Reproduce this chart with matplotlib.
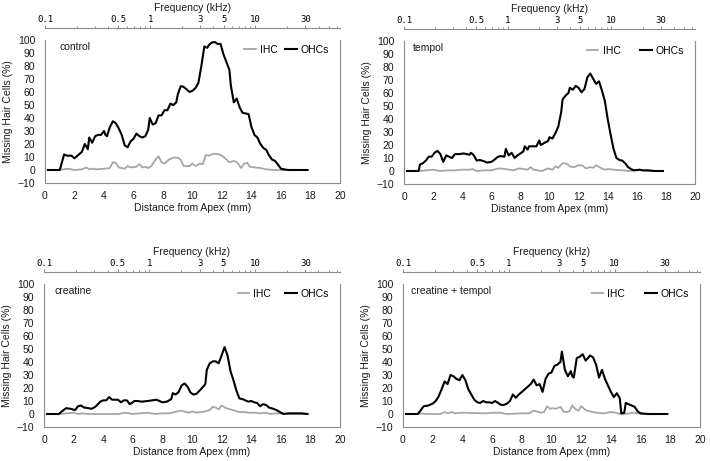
import numpy as np
import matplotlib
matplotlib.use("Agg")
import matplotlib.pyplot as plt
from matplotlib.ticker import FixedLocator, FixedFormatter, LogLocator, NullFormatter

plt.rcParams['font.family'] = ['Liberation Sans', 'DejaVu Sans']

# ---------------- data ----------------
control_ohc_x = [0.2,0.5,1.0,1.3,1.5,1.8,2.0,2.2,2.5,2.7,2.9,3.0,3.2,3.4,3.6,3.8,4.0,4.1,4.2,4.4,4.6,4.8,5.0,5.2,5.4,5.6,5.8,6.0,6.2,6.4,6.6,6.8,7.0,7.1,7.3,7.5,7.7,7.9,8.1,8.3,8.5,8.7,8.9,9.0,9.2,9.4,9.6,9.8,10.0,10.2,10.4,10.6,10.8,11.0,11.1,11.3,11.5,11.7,11.9,12.1,12.3,12.5,12.6,12.8,13.0,13.2,13.4,13.6,13.8,14.0,14.2,14.4,14.6,14.8,15.0,15.2,15.4,15.6,15.8,16.0,16.2,16.5,17.0,17.8]
control_ohc = [0,0,0,12,11,11,9,11,14,20,16,25,21,26,27,27,30,27,26,33,37.5,36,32,27,19,17.5,22,24,28,26,25,26,31,40,35,36,42,42,46,46,51,50,52,58,64.5,64,62,60,61,63,67,80,95,94,96,98,98.5,97,97,89,83,77,65,52,55,48,44,43.5,43,33,27,25,20,17,15.5,11,8,7,4,1,0.5,0,0,0]
control_ihc_x = [0.2,1.0,1.2,1.6,2.0,2.5,2.8,3.0,3.2,3.5,4.0,4.4,4.6,4.8,5.0,5.4,5.6,5.8,6.2,6.4,6.6,6.8,7.0,7.2,7.5,7.7,7.9,8.1,8.4,8.7,9.0,9.2,9.4,9.8,10.0,10.2,10.5,10.7,10.9,11.1,11.3,11.5,11.8,12.0,12.3,12.5,12.8,13.0,13.2,13.3,13.5,13.7,13.9,14.2,14.6,15.0,15.5,17.8]
control_ihc = [0,0,0.5,1,0,0.5,2,0.5,1,0.5,1,1.5,6,5.5,2,1,3,2,2.5,4.5,2,2.5,1.5,3,8,10.5,6,5,8,9.5,9.5,8,3,3,5,3,5,4.5,11.5,11,12,12.5,12,11,8,6,7,6,3,1.5,5,5.5,2.5,2,1.5,0.5,0,0]

tempol_ohc_x = [0.2,1.0,1.1,1.3,1.5,1.7,1.9,2.1,2.3,2.5,2.7,2.9,3.1,3.3,3.5,3.8,4.1,4.3,4.5,4.6,4.8,5.0,5.2,5.5,5.7,6.0,6.2,6.4,6.6,6.9,7.0,7.2,7.4,7.6,7.8,8.0,8.2,8.3,8.5,8.6,8.9,9.1,9.3,9.4,9.7,9.9,10.0,10.2,10.4,10.6,10.8,10.9,11.1,11.3,11.4,11.6,11.8,12.0,12.2,12.4,12.6,12.8,13.0,13.2,13.4,13.6,13.8,14.0,14.2,14.4,14.6,14.8,15.0,15.2,15.4,15.6,15.8,16.2,16.4,16.8,17.2,17.8]
tempol_ohc = [0,0,5,6,8,11,11,14,15.5,13,7,12,11,10,13,13,13.5,13,12.5,14,12,8,8.5,7.5,6.5,7,8.5,10.5,11.5,11,17,12,14,10,12,13.5,15,19,16.5,19,19,19,23.5,20,22,23,26,25,29,34,45,55,58,60,64,62.5,65.5,64,60.5,63,72,75,71,67,69,62,54,40,28,17,10,8.5,8,6,3,1.5,0.5,1,0.5,0.5,0,0]
tempol_ihc_x = [0.2,1.0,1.5,2.0,2.5,3.0,3.5,4.0,4.5,4.7,5.0,5.5,6.0,6.5,7.0,7.5,7.9,8.2,8.5,8.7,8.9,9.5,9.9,10.2,10.4,10.6,10.9,11.2,11.4,11.7,12.0,12.3,12.5,12.8,13.0,13.2,13.5,13.8,14.1,14.4,15.0,15.5,16.2,16.4,17.0,17.8]
tempol_ihc = [0,0,0.5,1,0,0.5,0.5,1,1,1.5,0,0.5,0.5,2,1.5,0.5,2,1.5,1,3,1,0,2,1,3.5,2.5,6,5.5,3.5,3,4.5,4,2,3,2.5,4.5,2.5,1,1.5,1,0.5,0,1,0.5,0,0]

creatine_ohc_x = [0.2,1.0,1.2,1.5,1.8,2.1,2.3,2.5,2.7,3.0,3.2,3.4,3.6,3.8,4.0,4.2,4.4,4.6,4.8,5.0,5.2,5.4,5.6,5.8,6.0,6.1,6.3,6.6,7.0,7.3,7.6,7.8,8.0,8.3,8.6,8.7,8.9,9.1,9.3,9.5,9.7,9.9,10.1,10.3,10.6,10.9,11.0,11.2,11.4,11.6,11.8,12.0,12.2,12.4,12.6,12.8,13.0,13.2,13.4,13.6,13.8,14.0,14.2,14.4,14.6,14.8,15.0,15.2,15.5,15.8,16.0,16.2,16.5,17.0,17.4,17.8]
creatine_ohc = [0,0,2,4.5,4,3,6,6.5,5,4.5,4,5,7,9.5,10.5,10.5,13,11,11,11,9,10.5,10.5,7.5,9,10,10,9.5,10,10.5,11,10,9,9.5,11.5,16,15,17,22,23.5,21,16.5,15,15.5,19,23,34,39,40.5,40.5,39,45,51.5,45,33,26,18,12,11.5,10.5,9.5,10,9,8.5,6,7.5,7,5,4,2.5,1,0,0.5,0.5,0.5,0]
creatine_ihc_x = [0.2,1.0,1.5,2.0,2.3,2.6,3.0,4.0,5.0,5.5,6.0,6.5,7.0,7.5,8.0,8.5,9.0,9.3,9.6,9.8,10.0,10.3,10.6,10.9,11.2,11.4,11.6,11.8,12.0,12.3,12.6,12.9,13.2,13.5,13.8,14.2,14.6,15.0,15.3,15.7,16.0,16.5,17.8]
creatine_ihc = [0,0,0.5,1,0,0.5,0,0,0,1,0,0.5,1,0,0.5,0.5,2,2.5,1.5,1,2,1,1.5,2,3,5.5,5,3.5,6.5,4.5,3.5,2.5,1.5,1.5,1,1,0.5,1,0,0.5,0.5,0,0]

combo_ohc_x = [0.2,1.0,1.2,1.4,1.7,2.0,2.2,2.4,2.6,2.8,3.0,3.2,3.4,3.6,3.8,4.0,4.2,4.4,4.6,4.8,5.0,5.2,5.4,5.6,5.8,6.0,6.2,6.4,6.6,6.8,7.0,7.2,7.4,7.6,7.8,8.0,8.2,8.4,8.6,8.8,9.0,9.2,9.4,9.6,9.8,10.0,10.2,10.4,10.6,10.7,10.9,11.1,11.3,11.4,11.5,11.7,11.9,12.1,12.3,12.6,12.8,13.0,13.2,13.4,13.6,13.8,14.0,14.2,14.4,14.6,14.7,14.9,15.0,15.2,15.4,15.6,15.8,16.0,16.5,17.8]
combo_ohc = [0,0,3,6,6.5,8,10,13.5,19,25,23,30,29,27,26,30,26,19,15,11,9,8.5,10,9,9,8.5,10,8.5,7,7,8,10,15,12.5,15,17,19,21,23,26.5,22,23,17,27,31,32,37,38,40,48,34,29,33,29,28,43,44,46,41,45,43.5,38,28,34,27,22,17,13,16,12,0.5,1,8.5,7.5,6.5,5.5,2,0.5,0,0]
combo_ihc_x = [0.2,1.0,1.2,1.5,2.5,2.8,3.0,3.3,3.5,4.0,5.5,6.0,6.5,7.0,8.0,8.5,8.8,9.0,9.3,9.5,9.7,9.9,10.1,10.3,10.6,10.8,11.0,11.2,11.4,11.6,11.8,12.0,12.3,12.6,13.0,13.5,14.0,14.3,14.6,15.0,15.5,15.8,16.2,17.8]
combo_ihc = [0,0,0.5,0,0,1.5,0.5,1.5,0.5,1,0.5,1,1,0,0.5,0.5,2.5,2,1,1.5,6,4,4.5,4,5.5,2,1.5,2,6.5,4,2.5,6,3,2,1,0.5,1.5,1,0,0,1,0.5,0,0]

panel_names = ['control', 'tempol', 'creatine', 'creatine + tempol']
freq_major = [0.1, 0.5, 1, 3, 5, 10, 30]
freq_labels = ['0.1', '0.5', '1', '3', '5', '10', '30']
x_ticks = list(range(0, 21, 2))
y_ticks = list(range(-10, 101, 10))

series = [
    (control_ihc_x, control_ihc, control_ohc_x, control_ohc),
    (tempol_ihc_x, tempol_ihc, tempol_ohc_x, tempol_ohc),
    (creatine_ihc_x, creatine_ihc, creatine_ohc_x, creatine_ohc),
    (combo_ihc_x, combo_ihc, combo_ohc_x, combo_ohc),
]

W, H = 710, 461
# pixel boxes: left, right, top, bottom
boxes = [(45, 340, 40, 183), (404, 695, 41, 184), (44, 340, 284, 427), (403, 700, 284, 427)]
name_x = [0.05, 0.03, 0.037, 0.027]
legend_colsp = [0.7, 1.9, 1.35, 1.9]

fig = plt.figure(figsize=(W / 100, H / 100), dpi=100)
spine_col = '#8c8c8c'
fs = 7.5

for k, (name, (ix, iy, ox, oy), (l, r, t, b)) in enumerate(zip(panel_names, series, boxes)):
    ax = fig.add_axes([l / W, 1 - b / H, (r - l) / W, (b - t) / H])
    ax.plot(ix, iy, color='#a6a6a6', lw=1.3, label='IHC')
    ax.plot(ox, oy, color='black', lw=1.5, label='OHCs')
    ax.set_xlim(0, 20)
    ax.set_ylim(-10, 100)
    ax.set_xticks(x_ticks)
    ax.set_yticks(y_ticks)
    ax.tick_params(axis='both', length=0, labelsize=fs, colors='#1a1a1a')
    ax.tick_params(axis='x', pad=6)
    ax.tick_params(axis='y', pad=7)
    ax.spines['top'].set_visible(False)
    for s in ['left', 'right', 'bottom']:
        ax.spines[s].set_color(spine_col)
        ax.spines[s].set_linewidth(0.8)
    ax.set_xlabel('Distance from Apex (mm)', fontsize=fs, labelpad=1, color='#1a1a1a')
    ax.set_ylabel('Missing Hair Cells (%)', fontsize=fs, labelpad=3, color='#1a1a1a')
    ax.text(name_x[k], 0.95, name, transform=ax.transAxes, va='center', ha='left',
            fontsize=fs, color='#1a1a1a')
    ax.legend(loc='upper right', bbox_to_anchor=(0.995, 1.03), ncol=2, frameon=False,
              handlelength=1.1, handletextpad=0.4, columnspacing=legend_colsp[k], fontsize=fs)

    ax2 = ax.twiny()
    ax2.set_xscale('log')
    ax2.set_xlim(0.1, 64)
    for s in ['left', 'right', 'bottom']:
        ax2.spines[s].set_visible(False)
    ax2.spines['top'].set_position(('outward', 8.6))
    ax2.spines['top'].set_color(spine_col)
    ax2.spines['top'].set_linewidth(0.8)
    ax2.xaxis.set_major_locator(FixedLocator(freq_major))
    ax2.xaxis.set_major_formatter(FixedFormatter(freq_labels))
    ax2.xaxis.set_minor_locator(LogLocator(base=10, subs=np.arange(2, 10)))
    ax2.xaxis.set_minor_formatter(NullFormatter())
    ax2.tick_params(axis='x', which='major', length=2, width=0.7, color=spine_col, pad=1,
                    labelsize=6.5, labelfontfamily='DejaVu Sans Mono')
    ax2.tick_params(axis='x', which='minor', length=1.5, width=0.7, color=spine_col)
    ax2.set_xlabel('Frequency (kHz)', fontsize=fs, labelpad=3, color='#1a1a1a')

fig.savefig('out.png', dpi=100)
